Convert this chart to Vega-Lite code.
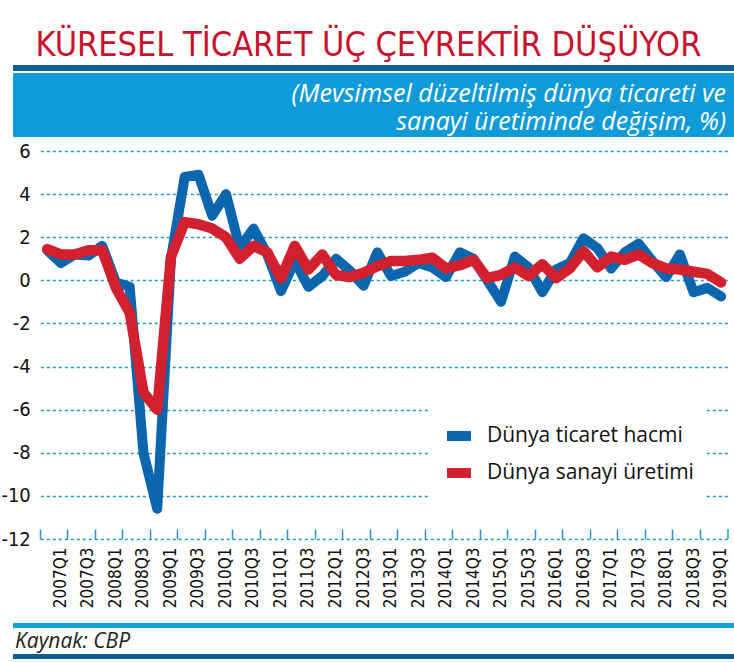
{
  "$schema": "https://vega.github.io/schema/vega-lite/v6.json",
  "padding": {"left": 0, "top": 29, "right": 0, "bottom": 4},
  "config": {"view": {"stroke": null}, "font": "Open Sans"},
  "title": {
    "text": "KÜRESEL TİCARET ÜÇ ÇEYREKTİR DÜŞÜYOR",
    "font": "Liberation Sans Narrow, DejaVu Sans Condensed, Roboto",
    "fontSize": 34,
    "fontWeight": "normal",
    "color": "#c7132d",
    "anchor": "middle",
    "offset": 2
  },
  "spacing": 0,
  "vconcat": [
    {"width": 723, "height": 6, "data": {"values": []}, "mark": "point", "view": {"fill": "#0b5e90"}},
    {"width": 723, "height": 2, "data": {"values": []}, "mark": "point"},
    {
      "width": 723, "height": 64,
      "data": {"values": []},
      "mark": "point",
      "view": {"fill": "#109bd8"},
      "title": {
        "text": ["(Mevsimsel düzeltilmiş dünya ticareti ve", "sanayi üretiminde değişim, %)"],
        "orient": "bottom", "anchor": "end", "align": "right", "offset": -55, "dx": -10,
        "font": "Open Sans", "fontStyle": "italic", "fontWeight": "normal",
        "fontSize": 25, "lineHeight": 28, "color": "white"
      }
    },
    {"width": 723, "height": 4, "data": {"values": []}, "mark": "point"},
    {
      "width": 715,
      "height": 388,
      "data": {
        "values": [
          {"ceyrek": "2007Q1", "ticaret": 1.4, "sanayi": 1.45},
          {"ceyrek": "2007Q2", "ticaret": 0.8, "sanayi": 1.2},
          {"ceyrek": "2007Q3", "ticaret": 1.2, "sanayi": 1.2},
          {"ceyrek": "2007Q4", "ticaret": 1.15, "sanayi": 1.4},
          {"ceyrek": "2008Q1", "ticaret": 1.6, "sanayi": 1.4},
          {"ceyrek": "2008Q2", "ticaret": -0.1, "sanayi": -0.35},
          {"ceyrek": "2008Q3", "ticaret": -0.3, "sanayi": -1.5},
          {"ceyrek": "2008Q4", "ticaret": -8.0, "sanayi": -5.2},
          {"ceyrek": "2009Q1", "ticaret": -10.6, "sanayi": -6.0},
          {"ceyrek": "2009Q2", "ticaret": 1.0, "sanayi": 1.1},
          {"ceyrek": "2009Q3", "ticaret": 4.8, "sanayi": 2.7},
          {"ceyrek": "2009Q4", "ticaret": 4.9, "sanayi": 2.6},
          {"ceyrek": "2010Q1", "ticaret": 3.0, "sanayi": 2.4},
          {"ceyrek": "2010Q2", "ticaret": 4.0, "sanayi": 2.0},
          {"ceyrek": "2010Q3", "ticaret": 1.5, "sanayi": 1.0},
          {"ceyrek": "2010Q4", "ticaret": 2.4, "sanayi": 1.6},
          {"ceyrek": "2011Q1", "ticaret": 1.2, "sanayi": 1.3},
          {"ceyrek": "2011Q2", "ticaret": -0.5, "sanayi": 0.1},
          {"ceyrek": "2011Q3", "ticaret": 0.9, "sanayi": 1.6},
          {"ceyrek": "2011Q4", "ticaret": -0.3, "sanayi": 0.5},
          {"ceyrek": "2012Q1", "ticaret": 0.2, "sanayi": 1.2},
          {"ceyrek": "2012Q2", "ticaret": 1.0, "sanayi": 0.25},
          {"ceyrek": "2012Q3", "ticaret": 0.45, "sanayi": 0.15},
          {"ceyrek": "2012Q4", "ticaret": -0.25, "sanayi": 0.35},
          {"ceyrek": "2013Q1", "ticaret": 1.3, "sanayi": 0.65},
          {"ceyrek": "2013Q2", "ticaret": 0.2, "sanayi": 0.9},
          {"ceyrek": "2013Q3", "ticaret": 0.4, "sanayi": 0.9},
          {"ceyrek": "2013Q4", "ticaret": 0.8, "sanayi": 0.95},
          {"ceyrek": "2014Q1", "ticaret": 0.6, "sanayi": 1.05},
          {"ceyrek": "2014Q2", "ticaret": 0.15, "sanayi": 0.55},
          {"ceyrek": "2014Q3", "ticaret": 1.3, "sanayi": 0.7},
          {"ceyrek": "2014Q4", "ticaret": 1.0, "sanayi": 0.95},
          {"ceyrek": "2015Q1", "ticaret": 0.0, "sanayi": 0.1},
          {"ceyrek": "2015Q2", "ticaret": -1.0, "sanayi": 0.25},
          {"ceyrek": "2015Q3", "ticaret": 1.1, "sanayi": 0.6},
          {"ceyrek": "2015Q4", "ticaret": 0.6, "sanayi": 0.2},
          {"ceyrek": "2016Q1", "ticaret": -0.55, "sanayi": 0.75},
          {"ceyrek": "2016Q2", "ticaret": 0.5, "sanayi": 0.1},
          {"ceyrek": "2016Q3", "ticaret": 0.8, "sanayi": 0.55},
          {"ceyrek": "2016Q4", "ticaret": 1.95, "sanayi": 1.35},
          {"ceyrek": "2017Q1", "ticaret": 1.5, "sanayi": 0.6},
          {"ceyrek": "2017Q2", "ticaret": 0.55, "sanayi": 1.1},
          {"ceyrek": "2017Q3", "ticaret": 1.3, "sanayi": 0.95},
          {"ceyrek": "2017Q4", "ticaret": 1.7, "sanayi": 1.2},
          {"ceyrek": "2018Q1", "ticaret": 0.9, "sanayi": 0.8},
          {"ceyrek": "2018Q2", "ticaret": 0.15, "sanayi": 0.55},
          {"ceyrek": "2018Q3", "ticaret": 1.2, "sanayi": 0.5},
          {"ceyrek": "2018Q4", "ticaret": -0.55, "sanayi": 0.4},
          {"ceyrek": "2019Q1", "ticaret": -0.35, "sanayi": 0.3},
          {"ceyrek": "2019Q2", "ticaret": -0.75, "sanayi": -0.1}
        ]
      },
      "layer": [
        {
          "mark": {"type": "line", "strokeWidth": 10, "strokeCap": "round", "strokeJoin": "round"},
          "encoding": {
            "x": {
              "field": "ceyrek", "type": "ordinal", "sort": null, "bandPosition": 0.5,
              "scale": {"type": "band", "paddingInner": 0, "paddingOuter": 0, "range": [27.3, 715]},
              "axis": {
                "title": null,
                "values": ["2007Q1","2007Q3","2008Q1","2008Q3","2009Q1","2009Q3","2010Q1","2010Q3","2011Q1","2011Q3","2012Q1","2012Q3","2013Q1","2013Q3","2014Q1","2014Q3","2015Q1","2015Q3","2016Q1","2016Q3","2017Q1","2017Q3","2018Q1","2018Q3","2019Q1"],
                "bandPosition": 0,
                "labelOffset": 13.75,
                "labelAngle": -90,
                "labelOverlap": false,
                "labelFont": "Liberation Sans Narrow, DejaVu Sans Condensed, Roboto",
                "labelFontSize": 17,
                "labelColor": "#111111",
                "labelPadding": 18,
                "domain": false,
                "grid": false,
                "tickSize": -10,
                "tickWidth": 1.5,
                "tickColor": "#1d9ac6"
              }
            },
            "y": {
              "field": "ticaret", "type": "quantitative",
              "scale": {"domain": [-12, 6], "nice": false, "zero": false},
              "axis": {
                "title": null,
                "offset": -27.3,
                "values": [-12, -10, -8, -6, -4, -2, 0, 2, 4, 6],
                "labelExpr": "toString(datum.value)",
                "labelFont": "Liberation Sans Narrow, DejaVu Sans Condensed, Roboto",
                "labelFontSize": 20,
                "labelColor": "#111111",
                "labelPadding": 10,
                "domain": false,
                "ticks": false,
                "grid": true,
                "gridColor": "#1d9ac6",
                "gridDash": [3, 3],
                "gridWidth": 1.3
              }
            },
            "color": {
              "datum": "Dünya ticaret hacmi",
              "type": "nominal",
              "scale": {"domain": ["Dünya ticaret hacmi", "Dünya sanayi üretimi"], "range": ["#0b66ae", "#d3202f"]},
              "legend": {
                "orient": "none", "legendX": 417, "legendY": 342,
                "title": null, "fillColor": "white", "padding": 12,
                "symbolType": "stroke", "symbolSize": 576, "symbolStrokeWidth": 10,
                "labelFont": "Open Sans", "labelFontSize": 21, "labelColor": "#111111",
                "labelOffset": 11, "rowPadding": -20, "labelLimit": 400
              }
            }
          }
        },
        {
          "mark": {"type": "line", "strokeWidth": 10.5, "strokeCap": "round", "strokeJoin": "round"},
          "encoding": {
            "x": {"field": "ceyrek", "type": "ordinal", "sort": null, "bandPosition": 0.5},
            "y": {"field": "sanayi", "type": "quantitative"},
            "color": {"datum": "Dünya sanayi üretimi", "type": "nominal"}
          }
        },
        {
          "transform": [{"filter": "datum.ceyrek == '2019Q2'"}],
          "mark": {"type": "rule", "color": "#1d9ac6", "strokeWidth": 1.5},
          "encoding": {
            "x": {"field": "ceyrek", "type": "ordinal", "sort": null, "bandPosition": 1},
            "y": {"datum": -12},
            "y2": {"datum": -11.54}
          }
        }
      ]
    },
    {"width": 723, "height": 15, "data": {"values": []}, "mark": "point"},
    {
      "width": 723, "height": 5,
      "data": {"values": []},
      "mark": "point",
      "view": {"fill": "#159fdb"},
      "title": {
        "text": "Kaynak: CBP",
        "orient": "bottom", "anchor": "start", "align": "left", "offset": 3, "dx": 2,
        "font": "Open Sans", "fontStyle": "italic", "fontWeight": "normal",
        "fontSize": 21, "color": "#222222"
      }
    },
    {"width": 723, "height": 2, "data": {"values": []}, "mark": "point"},
    {"width": 723, "height": 5, "data": {"values": []}, "mark": "point", "view": {"fill": "#0b5e90"}}
  ]
}
